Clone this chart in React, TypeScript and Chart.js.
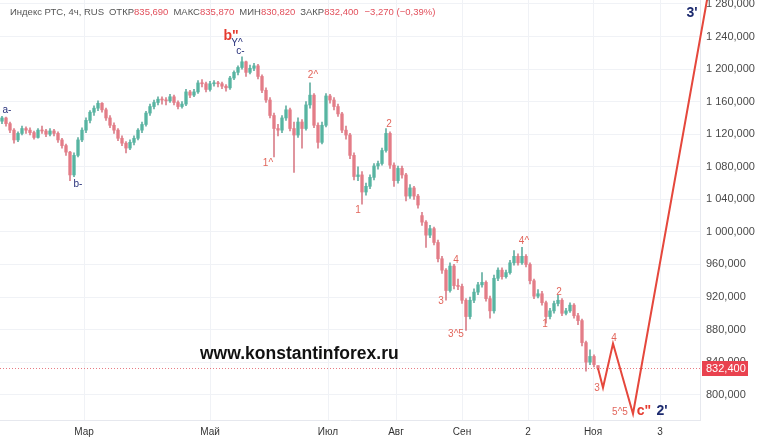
import React, { useEffect, useRef } from 'react';
import { Chart, registerables } from 'chart.js';

Chart.register(...registerables);

// OHLC candles, 4h, Индекс РТС (open, high, low, close)
const candles: [number, number, number, number][] = [
  [1136, 1142, 1133, 1140], [1140, 1141, 1130, 1133], [1133, 1135, 1122, 1125], [1125, 1127, 1109, 1113],
  [1113, 1123, 1111, 1121], [1121, 1130, 1119, 1127], [1127, 1129, 1121, 1125], [1125, 1128, 1119, 1122],
  [1122, 1124, 1114, 1116], [1116, 1127, 1115, 1125], [1125, 1130, 1121, 1124], [1124, 1126, 1117, 1120],
  [1120, 1127, 1118, 1124], [1124, 1126, 1118, 1121], [1121, 1123, 1110, 1113], [1113, 1115, 1103, 1106],
  [1106, 1108, 1094, 1098], [1098, 1099, 1063, 1070], [1070, 1097, 1068, 1094], [1094, 1116, 1092, 1113],
  [1113, 1128, 1111, 1125], [1125, 1140, 1122, 1137], [1137, 1149, 1134, 1147], [1147, 1155, 1143, 1152],
  [1152, 1161, 1149, 1158], [1158, 1159, 1147, 1150], [1150, 1152, 1137, 1140], [1140, 1143, 1128, 1131],
  [1131, 1134, 1121, 1125], [1125, 1127, 1112, 1115], [1115, 1118, 1106, 1109], [1109, 1111, 1097, 1103],
  [1103, 1113, 1101, 1110], [1110, 1118, 1107, 1115], [1115, 1127, 1113, 1125], [1125, 1135, 1122, 1132],
  [1132, 1148, 1130, 1146], [1146, 1157, 1143, 1154], [1154, 1162, 1151, 1159], [1159, 1166, 1156, 1163],
  [1163, 1166, 1157, 1162], [1162, 1165, 1156, 1161], [1161, 1169, 1159, 1166], [1166, 1168, 1156, 1159],
  [1159, 1161, 1151, 1154], [1154, 1160, 1152, 1157], [1157, 1175, 1155, 1172], [1172, 1174, 1165, 1168],
  [1168, 1175, 1166, 1172], [1172, 1186, 1170, 1183], [1183, 1187, 1178, 1182], [1182, 1184, 1172, 1175],
  [1175, 1185, 1173, 1182], [1182, 1186, 1179, 1183], [1183, 1185, 1178, 1182], [1182, 1184, 1176, 1179],
  [1179, 1181, 1173, 1177], [1177, 1191, 1175, 1189], [1189, 1198, 1187, 1196], [1196, 1204, 1193, 1202],
  [1202, 1215, 1200, 1209], [1209, 1210, 1191, 1196], [1196, 1205, 1194, 1201], [1201, 1207, 1198, 1204],
  [1204, 1206, 1188, 1191], [1191, 1193, 1171, 1174], [1174, 1177, 1159, 1162], [1162, 1165, 1140, 1143],
  [1143, 1146, 1092, 1127], [1127, 1132, 1118, 1125], [1125, 1143, 1122, 1140], [1140, 1155, 1137, 1150],
  [1150, 1152, 1124, 1127], [1127, 1135, 1073, 1119], [1119, 1140, 1116, 1135], [1135, 1138, 1103, 1127],
  [1127, 1160, 1125, 1156], [1156, 1183, 1152, 1168], [1168, 1170, 1128, 1131], [1131, 1134, 1103, 1110],
  [1110, 1135, 1108, 1131], [1131, 1170, 1129, 1167], [1167, 1169, 1158, 1162], [1162, 1165, 1150, 1154],
  [1154, 1157, 1142, 1145], [1145, 1147, 1122, 1125], [1125, 1130, 1114, 1119], [1119, 1121, 1090, 1094],
  [1094, 1097, 1064, 1068], [1068, 1080, 1063, 1070], [1070, 1074, 1034, 1049], [1049, 1060, 1045, 1056],
  [1056, 1070, 1053, 1067], [1067, 1084, 1064, 1081], [1081, 1087, 1077, 1084], [1084, 1103, 1082, 1100],
  [1100, 1127, 1098, 1121], [1121, 1123, 1078, 1082], [1082, 1085, 1056, 1063], [1063, 1081, 1060, 1078],
  [1078, 1081, 1066, 1070], [1070, 1072, 1038, 1044], [1044, 1058, 1041, 1054], [1054, 1056, 1040, 1044],
  [1044, 1046, 1029, 1033], [1020, 1024, 1008, 1012], [1012, 1014, 981, 996], [996, 1008, 993, 1004],
  [1004, 1006, 984, 987], [987, 990, 963, 967], [967, 970, 949, 953], [953, 955, 916, 928],
  [928, 962, 926, 958], [958, 960, 930, 934], [934, 942, 929, 933], [933, 936, 912, 916],
  [916, 918, 879, 896], [896, 920, 893, 916], [916, 930, 913, 926], [926, 938, 923, 935],
  [935, 950, 932, 938], [938, 940, 915, 918], [918, 921, 894, 903], [903, 947, 900, 943],
  [943, 956, 940, 953], [953, 956, 942, 945], [945, 953, 943, 950], [950, 965, 948, 962],
  [962, 977, 959, 970], [970, 973, 959, 962], [962, 981, 960, 970], [970, 972, 957, 960],
  [960, 962, 936, 940], [940, 942, 918, 921], [921, 929, 919, 924], [924, 927, 910, 913],
  [913, 915, 888, 896], [896, 906, 893, 903], [903, 915, 900, 912], [912, 922, 909, 916],
  [916, 918, 897, 900], [900, 906, 898, 903], [903, 913, 901, 910], [910, 912, 894, 897],
  [897, 900, 886, 891], [891, 893, 860, 864], [864, 866, 829, 840], [840, 855, 837, 847],
  [847, 849, 834, 837], [835.69, 835.87, 830.82, 832.4],
];

const lastClose = 832.4;

// x axis: candle index positions of the month/day labels
const timeTickPos = [20.5, 52, 81.5, 98.5, 115, 131.5, 147.75, 164.5];
const timeTickLabels = ['Мар', 'Май', 'Июл', 'Авг', 'Сен', '2', 'Ноя', '3'];

const priceTicks = [800, 840, 880, 920, 960, 1000, 1040, 1080, 1120, 1160, 1200, 1240, 1280];

// forecast path (wave 3, 4, c''/2', 3')
const forecastX = [149, 150.25, 152.75, 157.75, 176.25];
const forecastY = [832.4, 808.6, 862.8, 776.6, 1284.9];

// wave labels
const waveText = ['a-', 'b-', 'b"', 'Y^', 'c-', '1^', '2^', '1', '2', '3', '4', '3^5', '4^', '1', '2', '3', '4', '5^5', 'c"', "2'", "3'"];
const waveX = [1.25, 19, 57.25, 58.75, 59.6, 66.5, 77.75, 89, 96.75, 109.75, 113.5, 113.5, 130.5, 135.75, 139.25, 148.75, 153, 154.5, 160.5, 165, 172.5];
const waveY = [1149.5, 1058, 1240.5, 1231.5, 1222.5, 1084.3, 1192.6, 1026.4, 1132.3, 914.4, 964.9, 873.8, 988.3, 886.1, 925.5, 807.4, 868.9, 779, 780.3, 780.3, 1268.9];
const waveStyle = ['n', 'n', 'R', 'n', 'n', 'r', 'r', 'r', 'r', 'r', 'r', 'r', 'r', 'r', 'r', 'r', 'r', 'r', 'R', 'N', 'N'];

const UP = 'rgba(78,178,158,0.78)';
const DOWN = 'rgba(228,118,130,0.78)';
const UP_W = 'rgba(70,160,145,0.85)';
const DOWN_W = 'rgba(210,105,118,0.85)';

function fmtPrice(v: number): string {
  const s = v.toFixed(3);
  const [ip, dp] = s.split('.');
  const withSp = ip.replace(/\B(?=(\d{3})+(?!\d))/g, ' ');
  return withSp + ',' + dp;
}

const overlayPlugin = {
  id: 'overlay',
  beforeDatasetsDraw(chart: any) {
    const { ctx, chartArea, scales } = chart;
    const y = scales.y.getPixelForValue(lastClose);
    ctx.save();
    ctx.strokeStyle = 'rgba(226,90,100,0.8)';
    ctx.lineWidth = 1;
    ctx.setLineDash([1, 2]);
    ctx.beginPath();
    ctx.moveTo(chartArea.left, Math.round(y) + 0.5);
    ctx.lineTo(chartArea.right, Math.round(y) + 0.5);
    ctx.stroke();
    ctx.restore();
  },
  afterDraw(chart: any) {
    const { ctx, chartArea, scales } = chart;
    ctx.save();
    ctx.textAlign = 'center';
    ctx.textBaseline = 'middle';
    for (let i = 0; i < waveText.length; i++) {
      const px = scales.x.getPixelForValue(waveX[i]);
      const py = scales.y.getPixelForValue(waveY[i]);
      const st = waveStyle[i];
      if (st === 'n') {
        ctx.fillStyle = '#27307a';
        ctx.font = '10px Arial, "Liberation Sans", sans-serif';
      } else if (st === 'r') {
        ctx.fillStyle = '#e2665c';
        ctx.font = '10px Arial, "Liberation Sans", sans-serif';
      } else if (st === 'R') {
        ctx.fillStyle = '#e53a2f';
        ctx.font = 'bold 14px Arial, "Liberation Sans", sans-serif';
      } else {
        ctx.fillStyle = '#1c2a6e';
        ctx.font = 'bold 14px Arial, "Liberation Sans", sans-serif';
      }
      ctx.fillText(waveText[i], px, py);
    }
    const y = scales.y.getPixelForValue(lastClose);
    const x0 = chartArea.right + 2;
    ctx.fillStyle = '#e9424f';
    ctx.fillRect(x0, Math.round(y) - 7, 46, 15);
    ctx.fillStyle = '#ffffff';
    ctx.font = '11px Arial, "Liberation Sans", sans-serif';
    ctx.textAlign = 'left';
    ctx.fillText(fmtPrice(lastClose), x0 + 4, Math.round(y) + 1);
    ctx.restore();
  },
};

export default function App() {
  const ref = useRef<HTMLCanvasElement | null>(null);

  useEffect(() => {
    document.body.style.margin = '0';
    const canvas = ref.current;
    if (!canvas) return;
    const colors = candles.map((c) => (c[3] >= c[0] ? UP : DOWN));
    const wickColors = candles.map((c) => (c[3] >= c[0] ? UP_W : DOWN_W));
    const chart = new Chart(canvas, {
      type: 'bar',
      data: {
        datasets: [
          {
            type: 'bar',
            data: candles.map((c, i) => ({ x: i, y: [c[2], c[1]] })) as any,
            backgroundColor: wickColors,
            barThickness: 1,
            grouped: false,
            order: 3,
          } as any,
          {
            type: 'bar',
            data: candles.map((c, i) => ({ x: i, y: [c[0], c[3]] })) as any,
            backgroundColor: colors,
            barThickness: 3,
            minBarLength: 1,
            grouped: false,
            order: 2,
          } as any,
          {
            type: 'line',
            data: forecastX.map((x, i) => ({ x, y: forecastY[i] })) as any,
            borderColor: '#e5473c',
            borderWidth: 2,
            pointRadius: 0,
            tension: 0,
            clip: { left: 0, top: 0, right: 10, bottom: 0 },
            order: 1,
          } as any,
        ],
      },
      options: {
        responsive: false,
        maintainAspectRatio: false,
        animation: false,
        layout: { padding: 0 },
        plugins: { legend: { display: false }, tooltip: { enabled: false } },
        scales: {
          x: {
            type: 'linear',
            min: -0.5,
            max: 174.5,
            offset: false,
            afterBuildTicks: (scale: any) => {
              scale.ticks = timeTickPos.map((v) => ({ value: v }));
            },
            afterFit: (scale: any) => {
              scale.height = 22;
              scale.paddingLeft = 0;
              scale.paddingRight = 0;
            },
            ticks: {
              autoSkip: false,
              maxRotation: 0,
              padding: 6,
              color: '#333',
              font: { size: 10, family: 'Arial, "Liberation Sans", sans-serif' },
              callback: (_v: any, i: number) => timeTickLabels[i],
            },
            grid: { color: '#f0f2f6', drawTicks: false, offset: false },
            border: { display: true, color: '#e6e8ee' },
          },
          y: {
            type: 'linear',
            position: 'right',
            min: 768.9,
            max: 1284.9,
            afterBuildTicks: (scale: any) => {
              scale.ticks = priceTicks.map((v) => ({ value: v }));
            },
            afterFit: (scale: any) => {
              scale.width = 58;
              scale.paddingTop = 0;
              scale.paddingBottom = 0;
            },
            ticks: {
              padding: 6,
              color: '#4a4a4a',
              font: { size: 11, family: 'Arial, "Liberation Sans", sans-serif' },
              callback: (v: any) => fmtPrice(Number(v)),
            },
            grid: { color: '#f0f2f6', drawTicks: false },
            border: { display: true, color: '#e6e8ee' },
          },
        },
      },
      plugins: [overlayPlugin],
    } as any);
    return () => chart.destroy();
  }, []);

  const lab: React.CSSProperties = { color: '#555' };
  const val: React.CSSProperties = { color: '#e2505c' };
  const gap: React.CSSProperties = { color: '#555', marginLeft: 5 };
  return (
    <div style={{ position: 'relative', width: 758, height: 442, background: '#fff' }}>
      <canvas ref={ref} width={758} height={442} style={{ display: 'block' }} />
      <div
        style={{
          position: 'absolute',
          left: 10,
          top: 6,
          fontFamily: 'Arial, "Liberation Sans", sans-serif',
          fontSize: 9.5,
          whiteSpace: 'pre',
          color: '#555',
        }}
      >
        <span style={lab}>Индекс РТС, 4ч, RUS</span>
        <span style={gap}>ОТКР</span>
        <span style={val}>835,690</span>
        <span style={gap}>МАКС</span>
        <span style={val}>835,870</span>
        <span style={gap}>МИН</span>
        <span style={val}>830,820</span>
        <span style={gap}>ЗАКР</span>
        <span style={val}>832,400</span>
        <span style={{ ...val, marginLeft: 6 }}>−3,270 (−0,39%)</span>
      </div>
      <div
        style={{
          position: 'absolute',
          left: 200,
          top: 343,
          fontFamily: 'Arial, "Liberation Sans", sans-serif',
          fontWeight: 'bold',
          fontSize: 17.5,
          color: '#111',
        }}
      >
        www.konstantinforex.ru
      </div>
    </div>
  );
}
